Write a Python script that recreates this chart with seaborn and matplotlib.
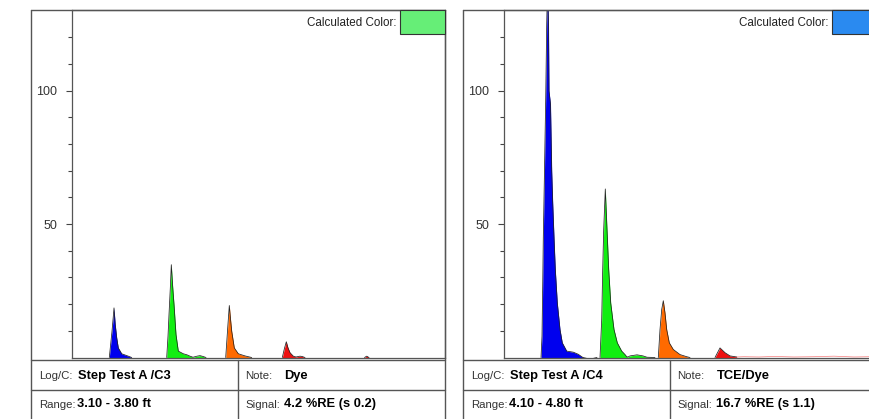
import matplotlib
matplotlib.use("Agg")
import matplotlib.pyplot as plt
import seaborn as sns
from matplotlib.patches import Rectangle
from matplotlib.lines import Line2D

# ---------------- data (x in scan units 0-373, y in signal units) -------------
# Left panel: Step Test A /C3
c3_blue_x = [37.3, 38.8, 40.0, 41.2, 42.0, 43.2, 44.7, 46.3, 49.7, 56.3, 59.7]
c3_blue_y = [0.0, 5.5, 9.9, 15.0, 18.6, 12.5, 7.4, 3.6, 1.4, 0.5, 0.0]
c3_green_x = [94.7, 96.0, 97.0, 98.3, 99.3, 100.6, 102.0, 104.0, 106.3, 111.3, 115.0, 118.0, 121.0, 125.0, 128.0, 131.0, 134.0]
c3_green_y = [0.0, 8.0, 16.1, 26.0, 34.8, 27.0, 19.9, 8.6, 2.4, 1.4, 1.0, 0.5, 0.1, 0.5, 0.7, 0.4, 0.0]
c3_orange_x = [153.7, 155.7, 157.3, 158.5, 159.7, 162.3, 166.3, 173.0, 179.7]
c3_orange_y = [0.0, 11.1, 19.5, 14.5, 9.9, 3.6, 1.4, 0.6, 0.0]
c3_red_x = [210.3, 212.5, 214.3, 216.0, 218.0, 221.3, 224.0, 228.0, 230.0, 233.0]
c3_red_y = [0.0, 3.5, 5.9, 3.6, 1.8, 0.5, 0.2, 0.5, 0.4, 0.0]
c3_red2_x = [292.5, 294.7, 297.0]
c3_red2_y = [0.0, 0.5, 0.0]

# Right panel: Step Test A /C4
c4_blue_x = [37.0, 38.0, 38.7, 39.3, 40.3, 41.7, 42.7, 43.5, 44.5, 45.0, 46.5, 47.7,
             48.7, 50.0, 51.3, 53.3, 56.0, 58.3, 62.7, 69.3, 74.3, 77.7, 79.0]
c4_blue_y = [0.0, 8.0, 27.0, 45.0, 66.0, 97.0, 125.0, 140.0, 125.0, 100.0, 95.0, 70.0,
             58.0, 45.0, 33.0, 20.5, 10.5, 5.5, 2.4, 2.0, 1.2, 0.3, 0.0]
c4_dip_x = [79.0, 86.0, 93.0]
c4_dip_y = [0.0, -0.6, 0.0]
c4_green_x = [96.0, 97.7, 98.7, 99.7, 101.3, 103.3, 104.7, 106.7, 110.0, 113.3, 117.7,
              121.0, 122.7, 124.0, 126.0, 133.0, 139.0, 143.0, 151.0]
c4_green_y = [0.0, 14.2, 33.0, 48.0, 63.2, 45.4, 33.0, 20.5, 10.5, 5.5, 2.4,
              1.1, 0.3, 0.2, 0.6, 1.0, 0.6, 0.1, 0.0]
c4_orange_x = [154.3, 156.0, 157.7, 159.3, 161.0, 162.7, 165.3, 169.3, 176.0, 182.7, 186.0]
c4_orange_y = [0.0, 10.5, 18.0, 21.3, 16.7, 10.5, 5.5, 3.0, 1.1, 0.3, 0.0]
c4_red_x = [211.0, 216.0, 221.0, 226.0, 232.7]
c4_red_y = [0.0, 3.6, 1.8, 0.6, 0.2]
c4_tail_x = [232.7, 240.0, 255.0, 270.0, 290.0, 310.0, 330.0, 350.0, 366.0, 373.0]
c4_tail_y = [0.2, 0.3, 0.2, 0.4, 0.2, 0.3, 0.5, 0.2, 0.3, 0.2]

y_major_ticks = [50, 100]
y_minor_ticks = [10, 20, 30, 40, 60, 70, 80, 90, 110, 120]

panel_names = ["Step Test A /C3", "Step Test A /C4"]
panel_notes = ["Dye", "TCE/Dye"]
panel_ranges = ["3.10 - 3.80 ft", "4.10 - 4.80 ft"]
panel_signals = ["4.2 %RE (s 0.2)", "16.7 %RE (s 1.1)"]
calc_colors = ["#66EE77", "#2A8AF0"]

C_BLUE, C_GREEN, C_ORANGE, C_RED, C_DIP = "#0000EE", "#11EE11", "#FF6A00", "#EE1111", "#9999EE"

peaks = [
    [(c3_blue_x, c3_blue_y, C_BLUE), (c3_green_x, c3_green_y, C_GREEN),
     (c3_orange_x, c3_orange_y, C_ORANGE), (c3_red_x, c3_red_y, C_RED),
     (c3_red2_x, c3_red2_y, C_RED)],
    [(c4_blue_x, c4_blue_y, C_BLUE), (c4_dip_x, c4_dip_y, C_DIP),
     (c4_green_x, c4_green_y, C_GREEN), (c4_orange_x, c4_orange_y, C_ORANGE),
     (c4_red_x, c4_red_y, C_RED)],
]
tails = [[], [(c4_tail_x, c4_tail_y, C_RED)]]

# ---------------- figure ----------------
W, H = 870, 419
sns.set_theme(style="white")
plt.rcParams['font.family'] = ['Liberation Sans', 'DejaVu Sans']

fig = plt.figure(figsize=(W / 100, H / 100), dpi=100)
fig.patch.set_facecolor("white")


def fx(x):
    return x / W


def fy(y):
    return 1 - y / H


def fline(x0, y0, x1, y1, lw=1.0, color="#555555"):
    fig.add_artist(Line2D([fx(x0), fx(x1)], [fy(y0), fy(y1)],
                          transform=fig.transFigure, lw=lw, color=color, zorder=5))


def ftext(x, y, s, **kw):
    fig.text(fx(x), fy(y), s, transform=fig.transFigure, **kw)


BOX_W = 414
AX_W = 373
lay = [
    dict(outer=31, axis=72, split=238),
    dict(outer=463, axis=504, split=670),
]

for i, L in enumerate(lay):
    o, a, s = L["outer"], L["axis"], L["split"]
    ax = fig.add_axes([fx(a), fy(357.5), AX_W / W, (357.5 - 10) / H])
    ax.set_facecolor("white")
    for xs, ys, col in peaks[i]:
        ax.fill_between(xs, ys, 0, color=col, lw=0, zorder=2)
        sns.lineplot(x=xs, y=ys, ax=ax, color="#222222", lw=0.55, sort=False,
                     estimator=None, legend=False, zorder=3)
    for xs, ys, col in tails[i]:
        sns.lineplot(x=xs, y=ys, ax=ax, color=col, lw=0.5, alpha=0.55, sort=False,
                     estimator=None, legend=False, zorder=3)
    ax.set_xlim(0, AX_W)
    ax.set_ylim(0, 130.3)
    ax.set_xticks([])
    ax.set_yticks(y_major_ticks)
    ax.set_yticks(y_minor_ticks, minor=True)
    ax.set_xlabel("")
    ax.set_ylabel("")
    ax.tick_params(axis="y", which="major", length=4.5, width=0.8, direction="out",
                   pad=6, labelsize=9, colors="#444444", labelcolor="#333333", left=True)
    ax.tick_params(axis="y", which="minor", length=2.8, width=0.8, direction="out",
                   colors="#444444", left=True)
    for sp in ax.spines.values():
        sp.set_color("#555555")
        sp.set_linewidth(0.9)

    # outer box
    fline(o, 10, o + BOX_W, 10)
    fline(o, 10, o, 419)
    fline(o + BOX_W, 10, o + BOX_W, 419)
    # table lines
    fline(o, 360, o + BOX_W, 360)
    fline(o, 389.5, o + BOX_W, 389.5)
    fline(s, 360, s, 419)

    # calculated colour box
    fig.add_artist(Rectangle((fx(o + BOX_W - 45), fy(34)), 45 / W, 24 / H,
                             transform=fig.transFigure, facecolor=calc_colors[i],
                             edgecolor="#333333", lw=0.8, zorder=6))
    ftext(o + BOX_W - 48, 22.5, "Calculated Color:", ha="right", va="center",
          fontsize=8.4, color="#222222")

    # table text
    lab = dict(fontsize=8.2, color="#333333", va="center")
    val = dict(fontsize=9.3, color="black", fontweight="bold", va="center")
    ftext(o + 8, 376, "Log/C:", **lab)
    ftext(o + 47, 375.5, panel_names[i], **val)
    ftext(o + 8, 404.5, "Range:", **lab)
    ftext(o + 46.5, 404, panel_ranges[i], **val)
    ftext(s + 7, 376, "Note:", **lab)
    ftext(s + 46.5, 375.5, panel_notes[i], **val)
    ftext(s + 7, 404.5, "Signal:", **lab)
    ftext(s + 46.5, 404, panel_signals[i], **val)

fig.savefig("out.png", dpi=100, facecolor="white")
